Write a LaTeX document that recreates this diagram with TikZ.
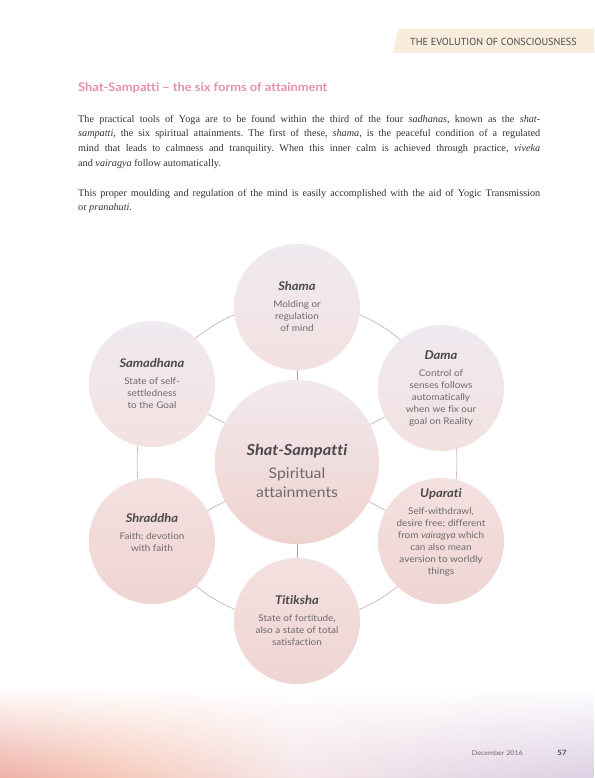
\documentclass[tikz,border=0pt]{standalone}
\usepackage{fontspec}
\setmainfont{Liberation Serif}
\setsansfont{Lato}[Ligatures=NoCommon,FakeStretch=1.08]
\newfontfamily\headfont{PT Sans}
\usetikzlibrary{fadings}
\definecolor{inkgray}{HTML}{4A4A4A}
\definecolor{softgray}{HTML}{6E6A6B}
\definecolor{bodyink}{HTML}{333333}
\definecolor{rosetitle}{HTML}{E58FAB}
\definecolor{ringrose}{HTML}{C49AA2}
\definecolor{bandcream}{HTML}{F8ECDD}
\definecolor{footsalmon}{HTML}{EEB0A6}
\definecolor{footpeach}{HTML}{F6C9B9}
\definecolor{footblush}{HTML}{F5E6E8}
\definecolor{footlilac}{HTML}{DCD0E4}
\definecolor{mistlilac}{HTML}{EFEAF0}
\definecolor{mistrose}{HTML}{F3E1E0}
\definecolor{deeprose}{HTML}{EFD5D4}
\definecolor{hubtop}{HTML}{F2E9EE}
\definecolor{hubmid}{HTML}{F5E0DA}
\definecolor{hubbottom}{HTML}{EFD2CE}
\pgfdeclarehorizontalshading{footglow}{100bp}{color(0bp)=(footsalmon); color(25bp)=(footsalmon);
  color(35bp)=(footpeach); color(50bp)=(footblush); color(75bp)=(footlilac); color(100bp)=(footlilac)}
\newcommand{\attname}[1]{{\fontsize{12}{14}\selectfont\bfseries\itshape\color{inkgray}#1}}

\begin{document}
\frenchspacing
\begin{tikzpicture}[x=1pt,y=-1pt,
    attain/.style={circle,minimum size=126pt,inner sep=-16pt,align=center,text=softgray,
      font=\sffamily\fontsize{9.2}{12}\selectfont},
    hub/.style={circle,minimum size=164pt,inner sep=0pt},
    hubtext/.style={align=center,inner sep=0pt,text=softgray,font=\sffamily\fontsize{14.6}{19}\selectfont},
    ring/.style={draw=ringrose,line width=0.5pt},
    para/.style={anchor=north west,inner sep=0pt,text width=462pt,align=justify,text=bodyink,
      font=\fontsize{10.2}{14.6}\selectfont}]
  \useasboundingbox (0,0) rectangle (594,778);
  % footer glow
  \shade[shading=footglow,path fading=north] (0,686) rectangle (594,778);
  \node[anchor=base east,inner sep=0pt,text=softgray,font=\sffamily\fontsize{6.6}{8}\selectfont]
    (month) at (523,755) {December 2016};
  \node[anchor=base,inner sep=0pt,text=inkgray,font=\sffamily\bfseries\fontsize{7.2}{8}\selectfont]
    (page) at (562,755) {57};
  % header band
  \fill[bandcream] (398,29) -- (594,29) -- (594,53) -- (393,53) -- cycle;
  \node[anchor=west,inner sep=0pt,text=inkgray,font=\headfont\fontsize{10.2}{12}\selectfont]
    (running) at (410,41.5) {THE EVOLUTION OF CONSCIOUSNESS};
  % title and text
  \node[anchor=base west,inner sep=0pt,text=rosetitle,font=\sffamily\bfseries\fontsize{11.9}{14}\selectfont]
    (heading) at (78,92) {Shat-Sampatti -- the six forms of attainment};
  \node[para] (intro) at (78,115) {The practical tools of Yoga are to be found within the third of the four
    \textit{sadhanas}, known as the \textit{shat-}\linebreak \textit{sampatti}, the six spiritual attainments.
    The first of these, \textit{shama}, is the peaceful condition of a regulated\linebreak mind that leads to
    calmness and tranquility. When this inner calm is achieved through practice, \textit{viveka}\linebreak
    and \textit{vairagya} follow automatically.};
  \node[para] (transmit) at (78,189) {This proper moulding and regulation of the mind is easily accomplished
    with the aid of Yogic Transmission\linebreak or \textit{pranahuti}.};
  % six attainments
  \coordinate (o) at (297,462);
  \draw[ring] (o) circle[radius=160];
  \node[hub,top color=hubtop,middle color=hubmid,bottom color=hubbottom] (hub) at (o) {};
  \node[hubtext] (hubname) at (297,471)
    {{\fontsize{15.2}{18}\selectfont\bfseries\itshape\color{inkgray}Shat-Sampatti}\\[4pt]Spiritual\\attainments};
  \node[attain,top color=mistlilac,bottom color=mistrose] (shama) at (297,307)
    {\attname{Shama}\\[5pt]Molding or\\regulation\\of mind};
  \node[attain,top color=mistlilac,bottom color=mistrose] (dama) at (441,388)
    {\attname{Dama}\\[5pt]Control of\\senses follows\\automatically\\when we fix our\\goal on Reality};
  \node[attain,top color=mistrose,bottom color=deeprose] (uparati) at (441,541)
    {\attname{Uparati}\\[5pt]Self-withdrawl,\\desire free; different\\from \textit{vairagya} which\\can also mean\\aversion to worldly\\things\\[6pt]};
  \node[attain,top color=mistrose,bottom color=deeprose] (titiksha) at (297,621)
    {\attname{Titiksha}\\[5pt]State of fortitude,\\also a state of total\\satisfaction};
  \node[attain,top color=mistrose,bottom color=deeprose] (shraddha) at (152,541)
    {\attname{Shraddha}\\[5pt]Faith; devotion\\with faith\\[4pt]};
  \node[attain,top color=mistlilac,bottom color=mistrose] (samadhana) at (152,384)
    {\attname{Samadhana}\\[5pt]State of self-\\settledness\\to the Goal};
  \foreach \n in {shama,dama,uparati,titiksha,shraddha,samadhana}
    \draw[ring] (hub) -- (\n);
\end{tikzpicture}
\end{document}
